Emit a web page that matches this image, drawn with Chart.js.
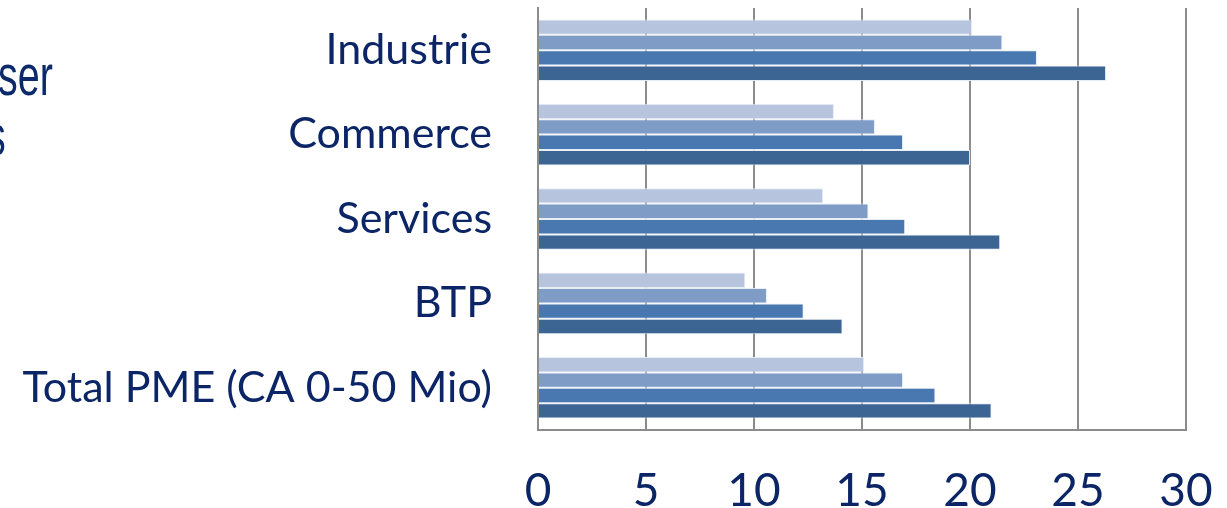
<!DOCTYPE html>
<html>
<head>
<meta charset="utf-8">
<script src="https://cdn.jsdelivr.net/npm/chart.js@4/dist/chart.umd.min.js"></script>
<style>
  html, body { margin: 0; padding: 0; background: #fff; overflow: hidden; }
  #wrap { position: relative; width: 1227px; height: 508px; }
  .cut { position: absolute; color: #0c2a6a; font-family: "Liberation Sans", sans-serif; font-size: 58px; line-height: 1; transform-origin: left top; transform: scaleX(0.68); white-space: nowrap; }
</style>
</head>
<body>
<div id="wrap">
  <canvas id="myChart" width="1227" height="508"></canvas>
  <div class="cut" style="left:-2px; top:46px;">ser</div>
  <div class="cut" style="left:-14px; top:106px;">s</div>
</div>
<script>
let categories = ['Industrie', 'Commerce', 'Services', 'BTP', 'Total PME (CA 0-50 Mio)']
let serieA = [20.1, 13.7, 13.2, 9.6, 15.1]
let serieB = [21.5, 15.6, 15.3, 10.6, 16.9]
let serieC = [23.1, 16.9, 17.0, 12.3, 18.4]
let serieD = [26.3, 20.0, 21.4, 14.1, 21.0]
let colors = ['#b6c4de', '#7f9cc7', '#4878af', '#3d6594']

let navy = '#0b2566'
let ctx = document.getElementById('myChart').getContext('2d')

let sets = [serieA, serieB, serieC, serieD].map((d, i) => ({
    data: d,
    backgroundColor: colors[i],
    borderColor: 'rgba(230,236,245,0.9)',
    borderWidth: 1,
    borderSkipped: 'start',
    categoryPercentage: 0.73,
    barPercentage: 1
}))

// drop the extra room chart.js keeps for the end labels
let noPad = s => { s.paddingTop = 0; s.paddingBottom = 0; s.paddingLeft = 0; s.paddingRight = 0 }

let myChart = new Chart(ctx, {
    type: 'bar',
    data: { labels: categories, datasets: sets },
    options: {
        indexAxis: 'y',
        responsive: false,
        animation: false,
        layout: { padding: { top: 8, right: 41, left: 0, bottom: 0 } },
        plugins: { legend: { display: false }, tooltip: { enabled: false } },
        scales: {
            x: {
                min: 0, max: 30,
                ticks: { stepSize: 5, color: navy, font: { family: 'Lato', size: 46 }, padding: 34 },
                grid: { color: '#8c8c8c', lineWidth: 2, drawTicks: false },
                border: { color: '#8c8c8c', width: 2 },
                afterFit: s => { s.height = 78; noPad(s) }
            },
            y: {
                ticks: { color: navy, font: { family: 'Lato', size: 43 }, padding: 46 },
                grid: { display: false, drawTicks: false },
                border: { color: '#8c8c8c', width: 2 },
                afterFit: s => { s.width = 538; noPad(s) }
            }
        }
    }
})
</script>
</body>
</html>
